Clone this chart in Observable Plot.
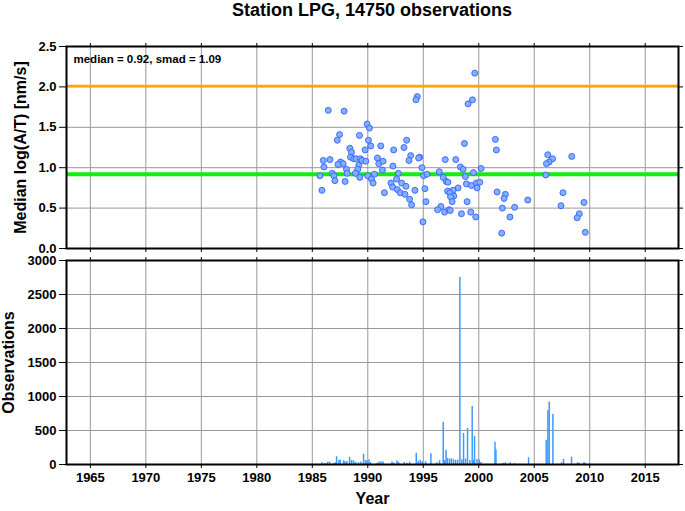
<!DOCTYPE html>
<html>
<head>
<meta charset="utf-8">
<script src="https://cdn.jsdelivr.net/npm/d3@7"></script>
<script src="https://cdn.jsdelivr.net/npm/@observablehq/plot@0.6"></script>
<style>
  body { margin: 0; background: white; }
  #wrap { width: 685px; height: 511px; position: relative; overflow: hidden; font-family: "Liberation Sans", Arial, sans-serif; }
  #title { height: 30px; width: 612px; padding-left: 66px; text-align: center; font-weight: bold; font-size: 18px; line-height: 20px; }
</style>
</head>
<body>
<div id="wrap">
  <div id="title">Station LPG, 14750 observations</div>
  <div id="top"></div>
  <div id="bottom"></div>
</div>
<script>
// ---- data ----
const titleText = "Station LPG, 14750 observations";
const medianValue = 0.92;
const smadValue = 1.09;
const annotationText = "median = 0.92, smad = 1.09";
const xTickYears = [1965, 1970, 1975, 1980, 1985, 1990, 1995, 2000, 2005, 2010, 2015];
const topYTicks = [0, 0.5, 1.0, 1.5, 2.0, 2.5];
const bottomYTicks = [0, 500, 1000, 1500, 2000, 2500, 3000];

const pointYear = [
  1986.44, 1987.87, 1989.94, 1990.15, 1987.46, 1987.25, 1989.25, 1990.06, 1990.27, 1988.38,
  1988.53, 1989.76, 1988.44, 1988.74, 1988.95, 1989.34, 1989.49, 1989.82, 1990.87, 1990.99,
  1985.99, 1986.59, 1986.05, 1987.54, 1987.78, 1987.31, 1989.19, 1989.10, 1988.08, 1988.14,
  1985.69, 1986.80, 1986.95, 1987.04, 1987.96, 1989.28, 1990.00, 1990.33, 1990.60, 1990.48,
  1988.89, 1985.87,
  1994.46, 1994.34, 1991.17, 1993.50, 1993.26, 1992.33, 1993.87, 1993.71, 1994.67, 1994.58,
  1991.38, 1991.32, 1992.27, 1994.88, 1992.75, 1995.03, 1995.33, 1992.60, 1992.09, 1993.05,
  1993.44, 1992.24, 1992.66, 1991.50, 1992.93, 1993.35, 1994.25, 1995.15, 1993.77, 1993.95,
  1995.24, 1994.97, 1996.44, 1996.80, 1997.07, 1996.98, 1997.19, 1996.59, 1996.29, 1996.92,
  1997.31,
  1999.64, 1999.43, 1999.04, 1998.71, 2001.50, 2001.59, 1997.93, 1998.35, 1998.59, 1999.52,
  2000.21, 1998.80, 1997.22, 1998.14, 1997.69, 1997.39, 1998.89, 1999.34, 1999.79, 2000.09,
  1999.85, 1997.75, 1997.46, 1997.60, 1998.95, 1997.43, 1998.44, 1999.28, 1999.73, 2001.65,
  2002.40, 2002.28, 2002.13, 2003.23, 2002.81, 2002.07,
  2006.22, 2006.65, 2006.34, 2006.10, 2008.38, 2006.04, 2004.42, 2007.59, 2007.41, 2009.48,
  2009.06, 2008.87, 2009.60
];
const pointValue = [
  1.71, 1.70, 1.54, 1.49, 1.41, 1.34, 1.40, 1.34, 1.27, 1.24,
  1.19, 1.22, 1.13, 1.11, 1.11, 1.11, 1.09, 1.08, 1.12, 1.05,
  1.09, 1.10, 1.01, 1.07, 1.05, 1.04, 1.03, 0.98, 0.98, 0.93,
  0.90, 0.93, 0.90, 0.84, 0.83, 0.88, 0.90, 0.86, 0.92, 0.81,
  0.93, 0.72,
  1.88, 1.84, 1.27, 1.34, 1.25, 1.22, 1.15, 1.09, 1.13, 1.12,
  1.08, 0.97, 1.02, 1.00, 0.93, 0.90, 0.92, 0.86, 0.81, 0.81,
  0.77, 0.76, 0.73, 0.69, 0.69, 0.67, 0.72, 0.74, 0.61, 0.54,
  0.58, 0.33, 0.95, 0.88, 0.83, 1.10, 0.71, 0.52, 0.48, 0.45,
  0.48,
  2.17, 1.84, 1.79, 1.30, 1.35, 1.22, 1.10, 1.01, 0.98, 0.94,
  0.99, 0.89, 0.82, 0.75, 0.72, 0.69, 0.80, 0.78, 0.81, 0.82,
  0.75, 0.65, 0.64, 0.58, 0.58, 0.47, 0.43, 0.45, 0.39, 0.70,
  0.67, 0.62, 0.50, 0.51, 0.39, 0.19,
  1.16, 1.11, 1.07, 1.05, 1.14, 0.91, 0.60, 0.69, 0.53, 0.57,
  0.43, 0.38, 0.20
];

const barYear = [
  1985.87, 1986.17, 1986.38, 1986.56, 1986.92, 1987.07, 1987.19, 1987.40, 1987.52, 1987.82,
  1987.94, 1988.12, 1988.36, 1988.54, 1988.72, 1988.90, 1989.17, 1989.38, 1989.62, 1989.80,
  1989.93, 1990.11, 1990.23, 1990.83, 1991.00, 1991.19, 1991.37, 1992.18, 1992.33, 1992.63,
  1992.78, 1993.29, 1993.53, 1993.77, 1994.37, 1994.55, 1994.73, 1994.91, 1995.21, 1995.69,
  1996.23, 1996.47, 1996.80, 1996.92, 1997.05, 1997.19, 1997.37, 1997.54, 1997.73, 1997.91,
  1998.10, 1998.30, 1998.48, 1998.63, 1998.81, 1998.99, 1999.20, 1999.41, 1999.53, 1999.62,
  1999.84, 2000.05, 2000.20, 2001.46, 2001.55, 2002.18, 2002.39, 2002.84, 2003.23, 2004.49,
  2006.08, 2006.23, 2006.35, 2006.68, 2007.46, 2007.64, 2008.36, 2008.90, 2009.05, 2009.48,
  2009.57
];
const barCount = [
  25, 15, 35, 35, 15, 25, 114, 60, 64, 55,
  40, 45, 104, 60, 55, 30, 25, 35, 149, 60,
  50, 70, 30, 20, 35, 40, 35, 35, 20, 50,
  30, 30, 20, 35, 164, 45, 60, 40, 40, 159,
  25, 55, 620, 60, 208, 90, 80, 85, 70, 60,
  65, 2750, 70, 456, 80, 531, 60, 853, 60, 412,
  75, 65, 30, 327, 213, 20, 25, 25, 10, 99,
  357, 794, 918, 734, 25, 74, 109, 25, 20, 30,
  20
];

// ---- build tables ----
const points = pointYear.map((x, i) => ({x, v: pointValue[i]}));
const bars = barYear.map((x, i) => ({x, c: barCount[i]}));

const xDomain = [1962.85, 2018];
const fontFamily = '"Liberation Sans", Arial, sans-serif';
const gridStyle = {stroke: "#999", strokeOpacity: 1, strokeWidth: 1};
const noLabel = () => "";

const topPlot = Plot.plot({
  width: 685, height: 222,
  marginLeft: 66, marginRight: 7, marginTop: 16, marginBottom: 4,
  style: {fontFamily, fontSize: "13px", fontWeight: "bold", color: "black", background: "white", display: "block", overflow: "visible"},
  x: {domain: xDomain},
  y: {domain: [0, 2.5]},
  marks: [
    Plot.gridX({ticks: xTickYears, ...gridStyle}),
    Plot.gridY({ticks: topYTicks, ...gridStyle}),
    Plot.ruleY([medianValue + smadValue], {stroke: "#ffa500", strokeWidth: 2.5}),
    Plot.ruleY([medianValue], {stroke: "#11ee11", strokeWidth: 4}),
    Plot.dot(points, {x: "x", y: "v", r: 3, fill: "#80b0ff", stroke: "#3560ff", strokeWidth: 0.9}),
    Plot.axisY({ticks: topYTicks, tickFormat: d3.format(".1f"), tickSize: 7, tickPadding: 3, label: null}),
    Plot.axisY({anchor: "right", ticks: topYTicks, tickFormat: noLabel, tickSize: 4, label: null}),
    Plot.axisX({anchor: "top", ticks: xTickYears, tickFormat: noLabel, tickSize: 4, label: null}),
    Plot.axisX({anchor: "bottom", ticks: xTickYears, tickFormat: noLabel, tickSize: 4, label: null}),
    Plot.frame({stroke: "black", strokeWidth: 2}),
    Plot.text([annotationText], {frameAnchor: "top-left", dx: 7, dy: 8, textAnchor: "start", fontSize: 11.5, fontWeight: "bold"}),
    Plot.text(["Median log(A/T) [nm/s]"], {frameAnchor: "left", dx: -46, rotate: -90, textAnchor: "middle", fontSize: 16, fontWeight: "bold"})
  ]
});
document.getElementById("top").appendChild(topPlot);

const bottomPlot = Plot.plot({
  width: 685, height: 259,
  marginLeft: 66, marginRight: 7, marginTop: 8, marginBottom: 47,
  style: {fontFamily, fontSize: "13px", fontWeight: "bold", color: "black", background: "white", display: "block", overflow: "visible"},
  x: {domain: xDomain},
  y: {domain: [0, 3000]},
  marks: [
    Plot.gridX({ticks: xTickYears, ...gridStyle}),
    Plot.gridY({ticks: bottomYTicks, ...gridStyle}),
    Plot.ruleX(bars, {x: "x", y1: 0, y2: "c", stroke: "#3d9bff", strokeWidth: 1.5}),
    Plot.axisY({ticks: bottomYTicks, tickFormat: d3.format("d"), tickSize: 7, tickPadding: 3, label: null}),
    Plot.axisY({anchor: "right", ticks: bottomYTicks, tickFormat: noLabel, tickSize: 4, label: null}),
    Plot.axisX({anchor: "top", ticks: xTickYears, tickFormat: noLabel, tickSize: 4, label: null}),
    Plot.axisX({anchor: "bottom", ticks: xTickYears, tickFormat: d3.format("d"), tickSize: 4, tickPadding: 4, label: null}),
    Plot.frame({stroke: "black", strokeWidth: 2}),
    Plot.text(["Observations"], {frameAnchor: "left", dx: -58, rotate: -90, textAnchor: "middle", fontSize: 16, fontWeight: "bold"}),
    Plot.text(["Year"], {frameAnchor: "bottom", dy: 39, fontSize: 16, fontWeight: "bold"})
  ]
});
document.getElementById("bottom").appendChild(bottomPlot);
</script>
</body>
</html>
